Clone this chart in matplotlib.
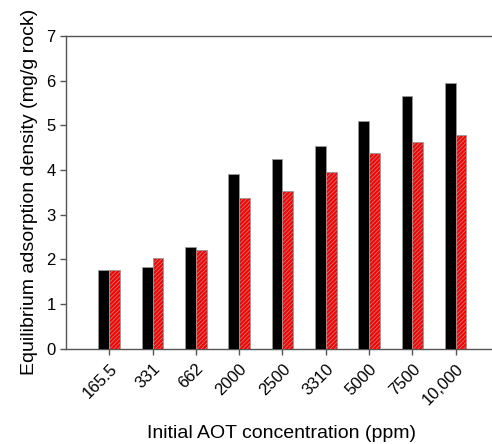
import matplotlib
matplotlib.use("Agg")
import matplotlib.pyplot as plt
import numpy as np

plt.rcParams["font.family"] = ["Liberation Sans", "DejaVu Sans"]
plt.rcParams["hatch.linewidth"] = 0.5
plt.rcParams["hatch.color"] = "#5a0000"

CONC_LABELS = ["165.5", "331", "662", "2000", "2500", "3310", "5000", "7500", "10,000"]
BLACK_VALS = [1.75, 1.82, 2.28, 3.91, 4.24, 4.53, 5.10, 5.66, 5.95]
RED_VALS = [1.75, 2.02, 2.21, 3.38, 3.53, 3.95, 4.37, 4.63, 4.79]

fig = plt.figure(figsize=(4.92, 4.44), dpi=100)
ax = fig.add_axes([0.134, 0.215, 0.866, 0.704])

x = np.arange(len(CONC_LABELS))
w = 0.25
ax.bar(x - w / 2, BLACK_VALS, width=w, color="black", edgecolor="#999999",
       linewidth=0.6, zorder=3)
ax.bar(x + w / 2, RED_VALS, width=w, color="#ff0000", edgecolor="#999999",
       linewidth=0.6, hatch="////////", zorder=3)

ax.set_xlim(-1.0, 8.84)
ax.set_ylim(0, 7)
ax.set_yticks(range(0, 8))
ax.set_xticks(x)
ax.set_xticklabels(CONC_LABELS, rotation=45, ha="right", rotation_mode="anchor")
ax.tick_params(axis="both", labelsize=12, direction="out", length=4,
               color="#555555", width=1)
ax.tick_params(axis="x", pad=5)
for s in ["left", "bottom", "top"]:
    ax.spines[s].set_color("#555555")
    ax.spines[s].set_linewidth(1.0)
ax.spines["right"].set_visible(False)

ax.set_ylabel("Equilibrium adsorption density (mg/g rock)", fontsize=14, labelpad=6)
# x label sits well below the rotated tick labels, as in the original
fig.text(0.573, 1 - 433 / 444, "Initial AOT concentration (ppm)", fontsize=14,
         ha="center", va="center")

fig.savefig("out.png", dpi=100)
